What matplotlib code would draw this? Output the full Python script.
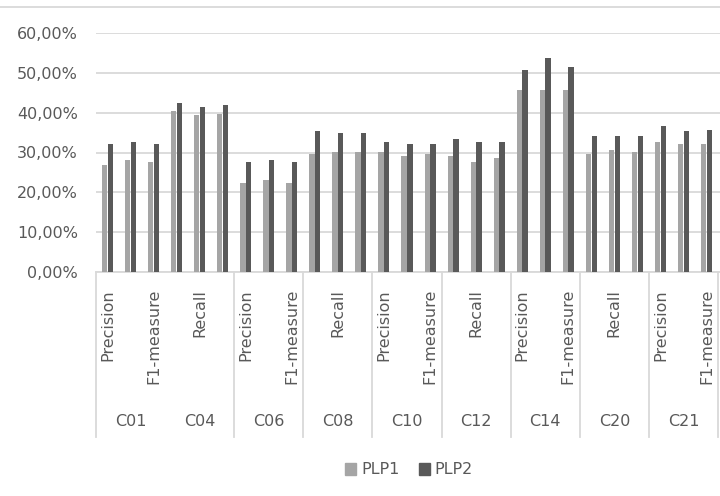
import numpy as np
import matplotlib
matplotlib.use("Agg")
from matplotlib import pyplot as plt
from matplotlib.patches import Patch
from matplotlib.ticker import FuncFormatter

groups = ["C01", "C04", "C06", "C08", "C10", "C12", "C14", "C20", "C21"]
metrics = ["Precision", "Recall", "F1-measure"]

plp1 = [26.9, 28.1, 27.6, 40.5, 39.3, 39.7, 22.4, 23.1, 22.4,
        29.6, 30.2, 30.2, 30.2, 29.2, 29.6, 29.2, 27.6, 28.5,
        45.7, 45.7, 45.7, 29.6, 30.7, 30.2, 32.6, 32.2, 32.2]
plp2 = [32.2, 32.6, 32.2, 42.4, 41.3, 42.0, 27.6, 28.1, 27.6,
        35.3, 34.8, 34.8, 32.6, 32.2, 32.2, 33.3, 32.6, 32.6,
        50.6, 53.7, 51.4, 34.1, 34.1, 34.1, 36.7, 35.3, 35.6]

C_PLP1 = "#a5a5a5"
C_PLP2 = "#595959"
TEXT = "#595959"
GRID = "#d9d9d9"
FS = 11.5


def _pct(value, _pos):
  return "{:.2f}%".format(value).replace(".", ",")


def plot_chart():
  fig = plt.figure(figsize=(7.2, 4.96), dpi=100)
  W, H = 720, 496
  ax = fig.add_axes([96 / W, 1 - 272 / H, (720 - 96) / W, (272 - 33) / H])

  n = len(plp1)
  x = np.arange(n)
  ax.bar(x - 0.125, plp1, width=0.23, color=C_PLP1, zorder=3)
  ax.bar(x + 0.125, plp2, width=0.23, color=C_PLP2, zorder=3)

  ax.set_ylim(0, 60)
  ax.set_xlim(-0.5, -0.5 + n * 624 / 622)
  ax.set_yticks(np.arange(0, 61, 10))
  ax.yaxis.set_major_formatter(FuncFormatter(_pct))
  ax.grid(axis="y", color=GRID, linewidth=1.3, zorder=0)
  ax.tick_params(axis="y", length=0, pad=13, labelsize=FS, labelcolor=TEXT)
  ax.set_xticks([])
  for side in ["top", "right", "left"]:
    ax.spines[side].set_visible(False)
  ax.spines["bottom"].set_color(GRID)
  ax.spines["bottom"].set_linewidth(1.3)

  trans = ax.get_xaxis_transform()
  ah = 272 - 33
  # sub category labels (Excel skips every other one)
  labels = [metrics[i % 3] for i in range(n)]
  for i in range(0, n, 2):
    ax.text(i, -(289 - 272) / ah, labels[i], rotation=90, ha="center",
            va="top", fontsize=FS, color=TEXT, transform=trans)
  # group labels
  for k, g in enumerate(groups):
    ax.text(3 * k + 1, -(422 - 272) / ah, g, ha="center", va="center",
            fontsize=FS, color=TEXT, transform=trans)
  # separators (the one between C01 and C04 is missing in the original)
  for k in range(len(groups) + 1):
    if k == 1:
      continue
    ax.plot([3 * k - 0.5] * 2, [0, -(437 - 272) / ah], color=GRID,
            linewidth=1.3, transform=trans, clip_on=False)

  # chart frame top edge
  fig.add_artist(plt.Line2D([0, 1], [1 - 7 / H] * 2, color=GRID,
                            linewidth=1.3, transform=fig.transFigure))

  handles = [Patch(color=C_PLP1, label="PLP1"),
             Patch(color=C_PLP2, label="PLP2")]
  leg = fig.legend(handles=handles, loc="center", ncol=2,
                   bbox_to_anchor=(409 / W, 1 - 470 / H), frameon=False,
                   fontsize=FS, handlelength=0.7, handleheight=0.7,
                   handletextpad=0.3, columnspacing=1.2)
  for t in leg.get_texts():
    t.set_color(TEXT)

  fig.savefig("out.png", dpi=100)


if __name__ == "__main__":
  plot_chart()
